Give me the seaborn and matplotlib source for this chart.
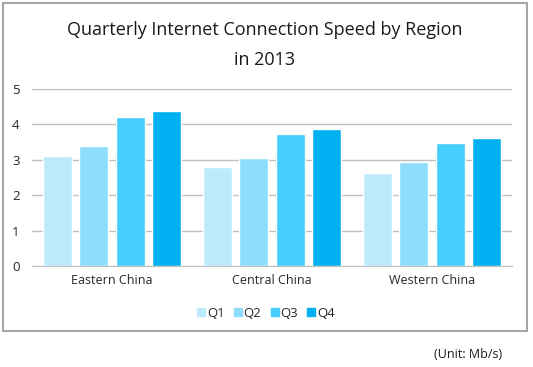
"""Quarterly internet connection speed by region, 2013."""

import matplotlib.pyplot as plt
import pandas as pd
import seaborn as sns
from matplotlib.patches import Rectangle

regions = ["Eastern China", "Central China", "Western China"]
quarters = ["Q1", "Q2", "Q3", "Q4"]
q1 = [3.10, 2.80, 2.63]
q2 = [3.40, 3.05, 2.94]
q3 = [4.21, 3.73, 3.47]
q4 = [4.38, 3.87, 3.62]

colors = ["#BDEBFC", "#8EDDFC", "#45CDFD", "#00B0F0"]

df = pd.DataFrame({"region": regions, "Q1": q1, "Q2": q2, "Q3": q3, "Q4": q4})
df = df.melt(id_vars="region", var_name="quarter", value_name="speed")

sns.set_style("white")
plt.rcParams["font.family"] = ["Open Sans", "DejaVu Sans"]

fig = plt.figure(figsize=(5.33, 3.67), dpi=100)
ax = fig.add_axes([0.060, 0.2752, 0.9006, 0.4823])

sns.barplot(data=df, x="region", y="speed", hue="quarter", hue_order=quarters,
            palette=colors, width=0.907, gap=0.2, saturation=1, ax=ax,
            errorbar=None, legend=False)

ax.set_ylim(0, 5)
ax.set_xlim(-0.5, 2.5)
ax.set_yticks(range(6))
ax.yaxis.grid(True, color="#BFBFBF", linewidth=1)
ax.set_axisbelow(True)
for side in ["left", "right", "top"]:
    ax.spines[side].set_visible(False)
ax.spines["bottom"].set_color("#BFBFBF")
ax.tick_params(axis="both", length=0, labelsize=9, colors="#262626")
ax.tick_params(axis="y", labelsize=9.5, pad=9)
ax.tick_params(axis="x", pad=6)
ax.set_xlabel("")
ax.set_ylabel("")

handles = [plt.Line2D([], [], marker="s", linestyle="", markersize=6,
                      markerfacecolor=c, markeredgecolor=c) for c in colors]
fig.legend(handles, quarters, loc="center", bbox_to_anchor=(0.497, 0.147),
           ncol=4, frameon=False, fontsize=9.5, handletextpad=0.0,
           columnspacing=0.55, handlelength=0.9)

fig.text(0.497, 0.918, "Quarterly Internet Connection Speed by Region",
         ha="center", va="center", fontsize=13, color="#1a1a1a")
fig.text(0.497, 0.837, "in 2013", ha="center", va="center", fontsize=13,
         color="#1a1a1a")
fig.text(0.942, 0.035, "(Unit: Mb/s)", ha="right", va="center", fontsize=9,
         color="#1a1a1a")

fig.patches.append(Rectangle((0.006, 0.098), 0.982, 0.893, transform=fig.transFigure,
                             fill=False, edgecolor="#A6A6A6", linewidth=1.5))

fig.savefig("out.png", dpi=100)
